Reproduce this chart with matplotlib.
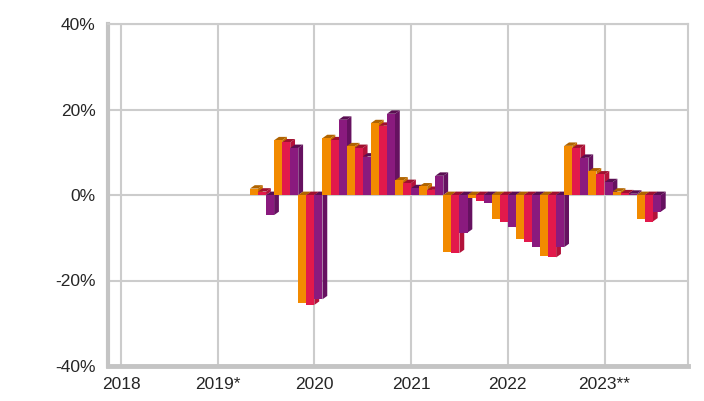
import matplotlib
matplotlib.use("Agg")
import matplotlib.pyplot as plt
from matplotlib.patches import Polygon

plt.rcParams["font.family"] = ["Liberation Sans", "DejaVu Sans"]

# quarters shown, and the three monthly series per quarter (percent)
quarters = ["2019 Q2", "2019 Q3", "2019 Q4",
            "2020 Q1", "2020 Q2", "2020 Q3", "2020 Q4",
            "2021 Q1", "2021 Q2", "2021 Q3", "2021 Q4",
            "2022 Q1", "2022 Q2", "2022 Q3", "2022 Q4",
            "2023 Q1", "2023 Q2"]
month_1 = [1.5, 12.8, -25.3, 13.3, 11.4, 16.8, 3.4, 2.0, -13.3,
           -0.8, -5.7, -10.4, -14.2, 11.5, 5.5, 0.8, -5.7]
month_2 = [0.8, 12.3, -25.7, 12.8, 11.0, 16.2, 2.8, 1.2, -13.6,
           -1.3, -6.2, -10.9, -14.6, 11.0, 4.8, 0.4, -6.2]
month_3 = [-4.7, 11.0, -24.4, 17.6, 9.0, 19.0, 1.6, 4.5, -8.8,
           -1.8, -7.6, -12.2, -12.2, 8.7, 3.0, 0.3, -3.9]

year_ticks = [2018, 2019, 2020, 2021, 2022, 2023]
year_labels = ["2018", "2019*", "2020", "2021", "2022", "2023**"]
y_ticks = [-40, -20, 0, 20, 40]

front_cols = ["#f28a00", "#e2194b", "#8a1a7e"]
top_cols = ["#b06400", "#a0102f", "#5a0e52"]
side_cols = ["#c46e00", "#b3123a", "#661160"]

fig = plt.figure(figsize=(7.04, 4.01), dpi=100)
ax = fig.add_axes([108 / 704, 35 / 401, 580 / 704, 342 / 401])

ax.set_xlim(2018 - 13 / 96.7, 2018 + 567 / 96.7)
ax.set_ylim(-40, 40)

# depth of the pseudo-3d bars, in data units
dx = 4.8 / 96.7
dy = 3.4 / 4.275
w = 1 / 12

series = [month_1, month_2, month_3]
z = 3.0
for qi, q in enumerate(quarters):
    yr, qq = q.split(" Q")
    start = int(yr) + (int(qq) - 1) / 4 + 1 / 12
    for s in range(3):
        v = series[s][qi]
        x0 = start + s * w
        x1 = x0 + w
        top = max(v, 0)
        bot = min(v, 0)
        side = Polygon([(x1, bot), (x1 + dx, bot + dy), (x1 + dx, top + dy), (x1, top)],
                       closed=True, facecolor=side_cols[s], edgecolor="none", zorder=z)
        cap = Polygon([(x0, top), (x0 + dx, top + dy), (x1 + dx, top + dy), (x1, top)],
                      closed=True, facecolor=top_cols[s], edgecolor="none", zorder=z + 0.001)
        ax.add_patch(side)
        ax.add_patch(cap)
        ax.bar(x0, v, width=w, align="edge", color=front_cols[s],
               edgecolor="none", zorder=z + 0.002)
        z += 0.01

ax.set_xticks(year_ticks)
ax.set_xticklabels(year_labels)
ax.set_yticks(y_ticks)
ax.set_yticklabels([f"{t}%" for t in y_ticks])
ax.tick_params(length=0, labelsize=12.5, colors="#262626", pad=8)
ax.tick_params(axis="y", pad=9)

ax.grid(True, color="#cccccc", linewidth=1.5, zorder=0)
ax.set_axisbelow(True)

for side_name in ["top", "right"]:
    ax.spines[side_name].set_color("#cccccc")
    ax.spines[side_name].set_linewidth(1.5)
ax.spines["left"].set_color("#c4c4c4")
ax.spines["left"].set_linewidth(3)
ax.spines["bottom"].set_color("#c4c4c4")
ax.spines["bottom"].set_linewidth(3.5)

fig.savefig("out.png", dpi=100, facecolor="white")
